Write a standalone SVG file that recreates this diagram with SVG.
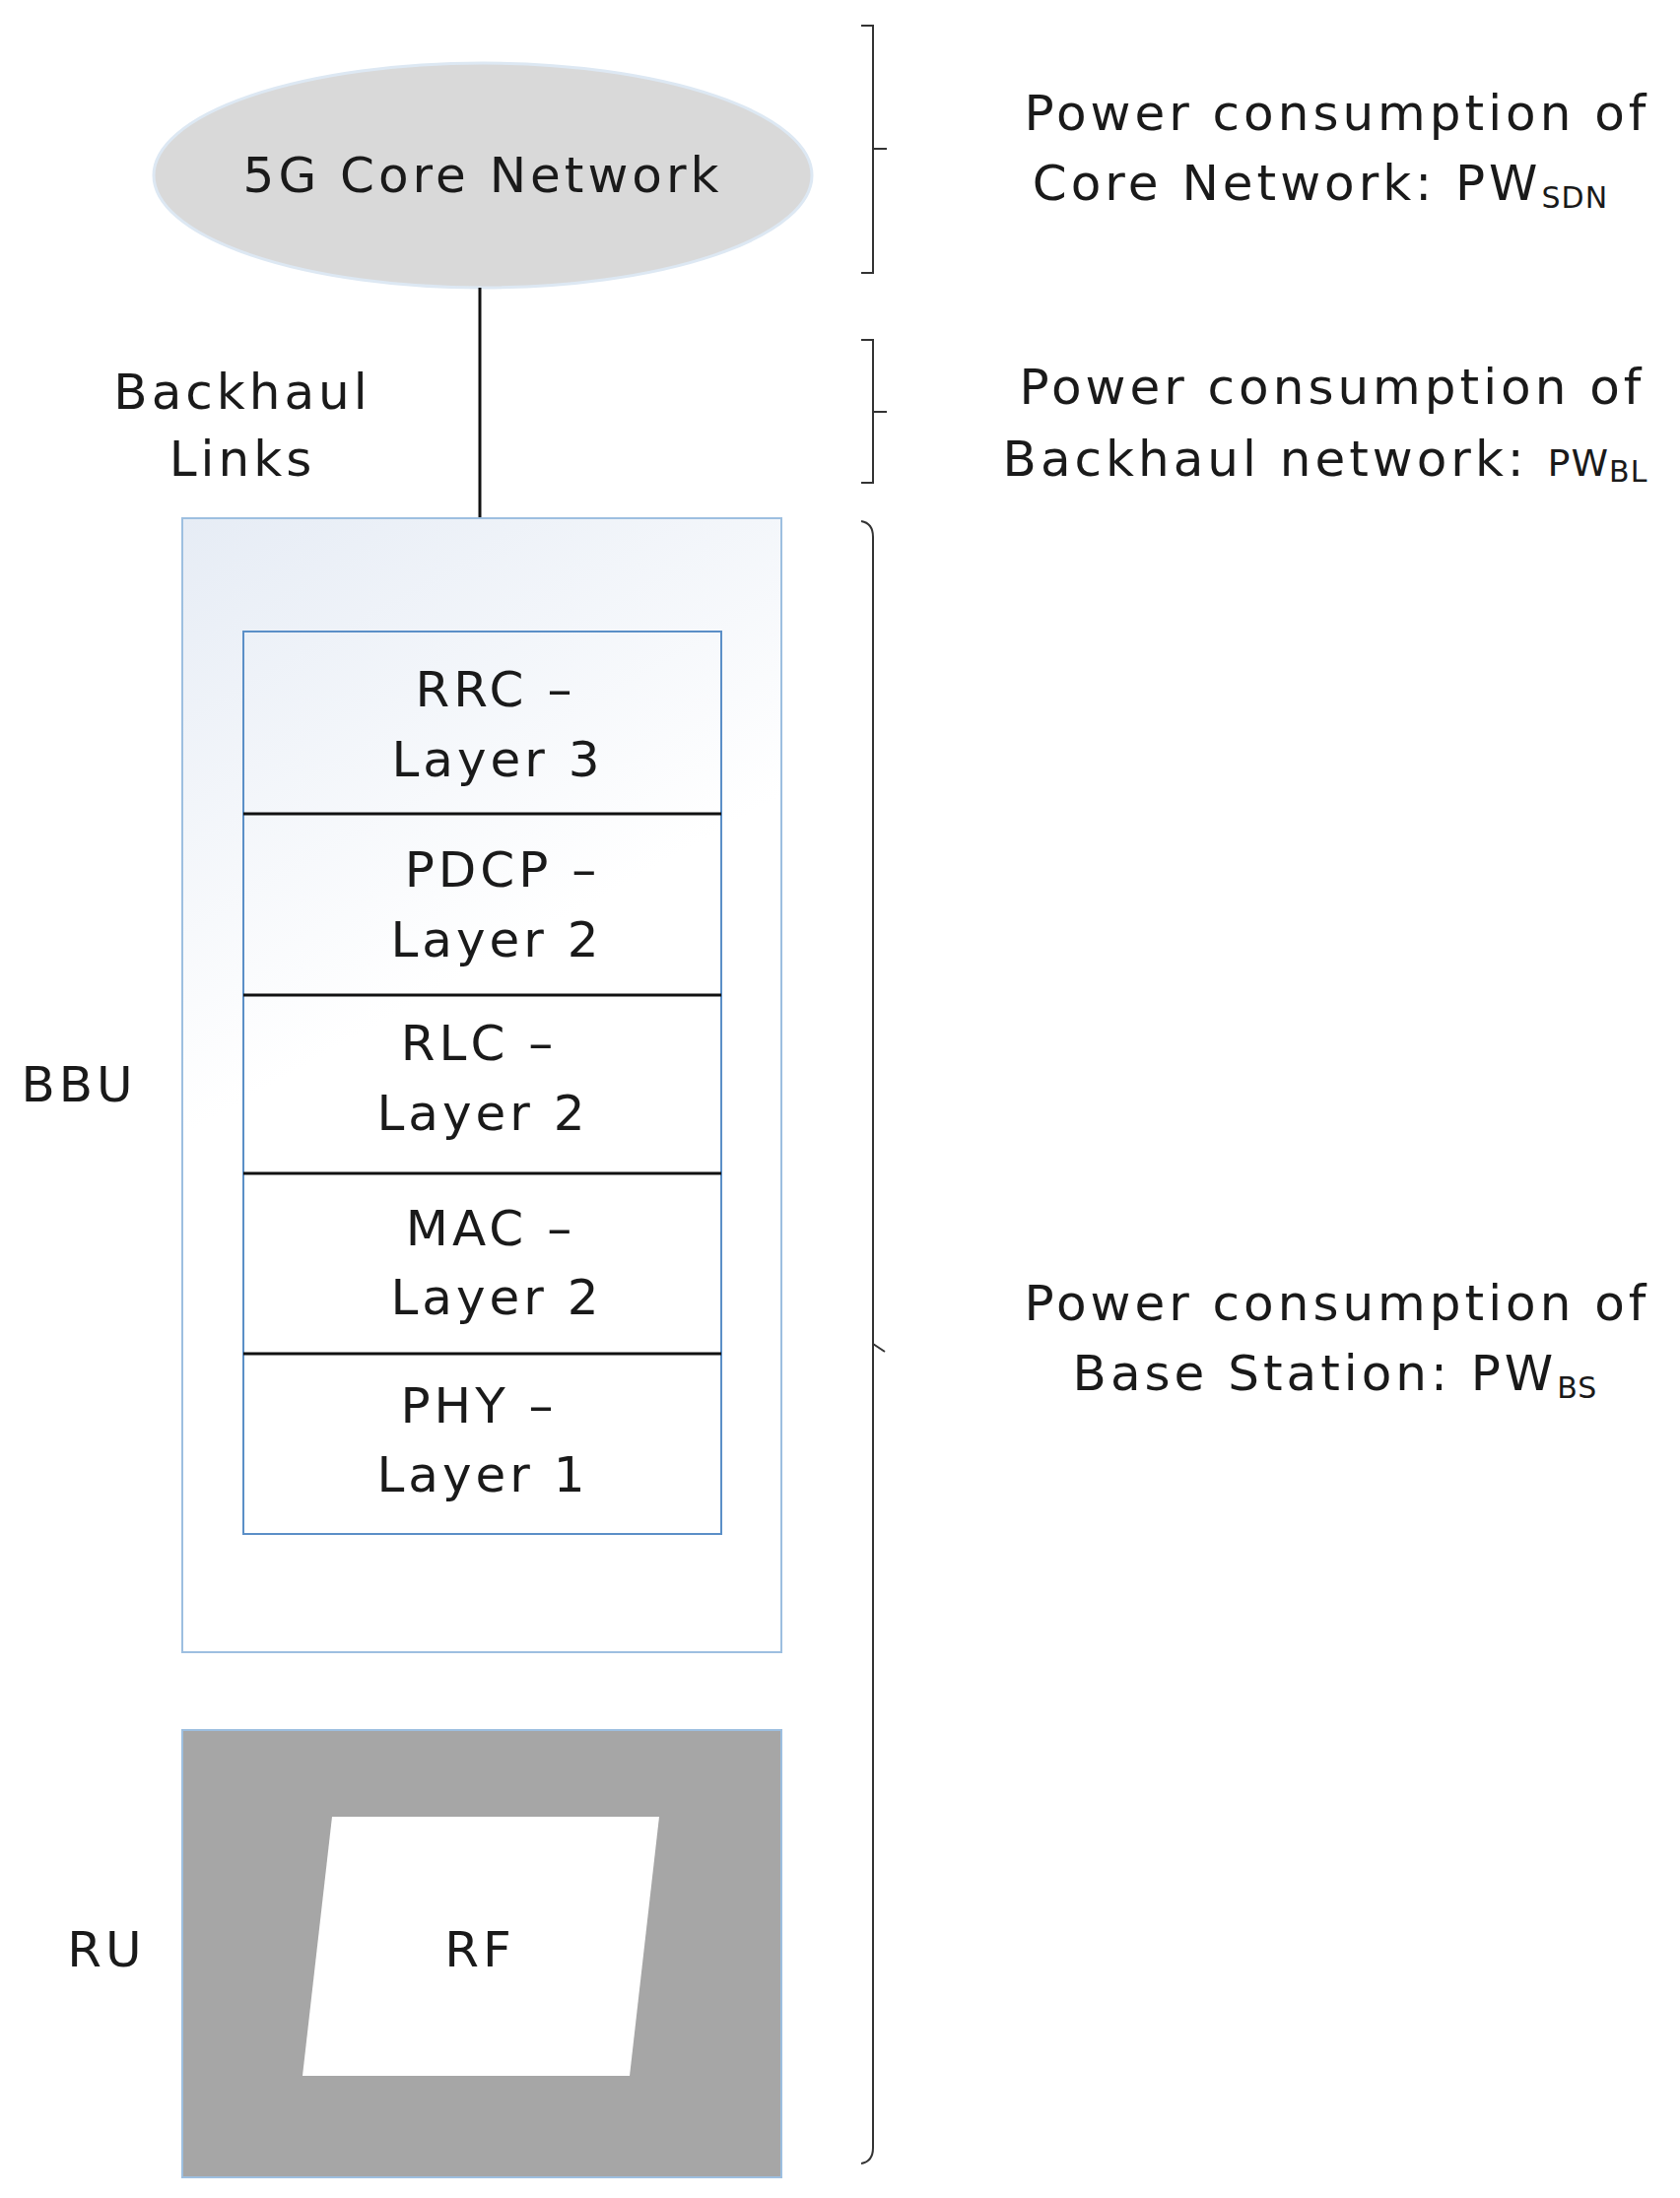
<svg xmlns="http://www.w3.org/2000/svg" width="1705" height="2231" viewBox="0 0 1705 2231">
<style>
text{font-family:"DejaVu Sans","Noto Sans",sans-serif;font-size:50px;fill:#1a1a1a;text-anchor:middle;letter-spacing:4px}
.br{fill:none;stroke:#333;stroke-width:2}
.div{stroke:#111;stroke-width:3}
.sub{font-size:30px;letter-spacing:1px}
</style>
<defs>
<linearGradient id="bg" x1="0" y1="0" x2="0.3" y2="1"><stop offset="0" stop-color="#e6ecf5"/><stop offset="0.5" stop-color="#ffffff"/><stop offset="1" stop-color="#ffffff"/></linearGradient>
</defs>
<rect width="1705" height="2231" fill="#fff"/>
<g id="core"><ellipse cx="490" cy="178" rx="334" ry="114" fill="#d9d9d9" stroke="#dde8f3" stroke-width="3"/><text x="490" y="195">5G Core Network</text></g>
<g id="connectors"><line x1="487" y1="292" x2="487" y2="526" stroke="#111" stroke-width="3"/></g>
<g id="backhaul-label"><text x="246" y="415">Backhaul</text><text x="246" y="483">Links</text></g>
<g id="bbu">
<rect x="185" y="526" width="608" height="1151" fill="url(#bg)" stroke="#9dbfe0" stroke-width="2"/>
<rect x="247" y="641" width="485" height="916" fill="none" stroke="#5b8fc7" stroke-width="2"/>
<line class="div" x1="247" y1="826" x2="732" y2="826"/>
<line class="div" x1="247" y1="1010" x2="732" y2="1010"/>
<line class="div" x1="247" y1="1191" x2="732" y2="1191"/>
<line class="div" x1="247" y1="1374" x2="732" y2="1374"/>
<text x="503" y="717">RRC –</text><text x="505" y="788">Layer 3</text>
<text x="510" y="900">PDCP –</text><text x="504" y="971">Layer 2</text>
<text x="486" y="1076">RLC –</text><text x="490" y="1147">Layer 2</text>
<text x="498" y="1264">MAC –</text><text x="504" y="1334">Layer 2</text>
<text x="486" y="1444">PHY –</text><text x="490" y="1514">Layer 1</text>
<text x="80" y="1118">BBU</text>
</g>
<g id="ru">
<rect x="185" y="1756" width="608" height="454" fill="#a6a6a6" stroke="#9dbfe0" stroke-width="2"/>
<polygon points="337,1844 669,1844 639,2107 307,2107" fill="#fff"/>
<text x="487" y="1996">RF</text>
<text x="108" y="1996">RU</text>
</g>
<g id="brackets">
<path class="br" d="M874,26 H886 V277 H874 M886,151 H900"/>
<path class="br" d="M874,345 H886 V490 H874 M886,418 H900"/>
<path class="br" d="M874,529 Q886,531 886,545 V2180 Q886,2194 874,2196 M886,1364 L898,1372"/>
</g>
<g id="labels">
<text x="1357" y="132">Power consumption of</text>
<text x="1340" y="203">Core Network: PW<tspan class="sub" dy="8">SDN</tspan></text>
<text x="1352" y="410">Power consumption of</text>
<text x="1345" y="483">Backhaul network: <tspan font-size="38" letter-spacing="1px">PW</tspan><tspan class="sub" font-size="28" dy="6">BL</tspan></text>
<text x="1357" y="1340">Power consumption of</text>
<text x="1355" y="1411">Base Station: PW<tspan class="sub" dy="8">BS</tspan></text>
</g>
</svg>
